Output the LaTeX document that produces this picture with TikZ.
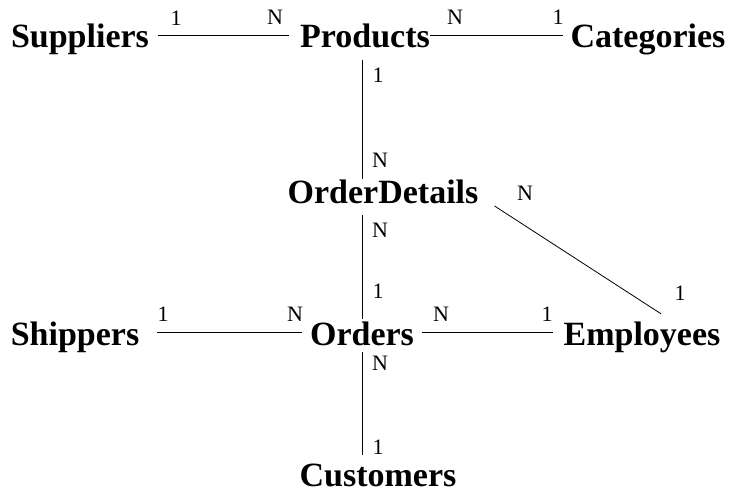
\documentclass[tikz,border=0pt]{standalone}
\usepackage{fontspec}
\setmainfont{Liberation Serif}
\begin{document}
\begin{tikzpicture}[x=1pt,y=-1pt,
  entity/.style={font=\fontsize{34}{40}\selectfont\bfseries, inner sep=0pt,
    text height=26pt, text depth=0pt, anchor=base},
  card/.style={font=\fontsize{22}{26}\selectfont, inner sep=0pt},
  link/.style={draw=black, line width=0.8pt}]
\useasboundingbox (0,0) rectangle (732,495);

% tables
\node[entity] (sup)  at (80,48)    {Suppliers};
\node[entity] (prod) at (365,48)   {Products};
\node[entity] (cat)  at (648,48)   {Categories};
\node[entity] (od)   at (383,203)  {OrderDetails};
\node[entity] (ship) at (75,345)   {Shippers};
\node[entity] (ord)  at (362,345)  {Orders};
\node[entity] (emp)  at (642,345)  {Employees};
\node[entity] (cust) at (378,486)  {Customers};

% relationships
\draw[link, shorten <=9pt, shorten >=11pt] (sup.east) -- (prod.west);
\draw[link, shorten <=0pt, shorten >=7pt] (prod.east) -- (cat.west);
\draw[link, shorten <=12pt, shorten >=-2pt] (prod.south -| ord) -- (od.north -| ord);
\draw[link, shorten <=12pt, shorten >=0pt] (od.south -| ord) -- (ord.north);
\draw[link, shorten <=7pt, shorten >=5pt] (ord.south) -- (cust.north -| ord);
\draw[link, shorten <=18pt, shorten >=8pt] (ship.east) -- (ord.west);
\draw[link, shorten <=8pt, shorten >=10pt] (ord.east) -- (emp.west);
\draw[link] ([xshift=16pt,yshift=-16pt]od.east) -- ([xshift=19pt,yshift=5pt]emp.north);

% cardinalities
\node[card] (c1) at (176,18)  {1};
\node[card] (c2) at (275,17)  {N};
\node[card] (c3) at (455,17)  {N};
\node[card] (c4) at (558,17)  {1};
\node[card] (c5) at (378,75)  {1};
\node[card] (c6) at (380,160) {N};
\node[card] (c7) at (380,230) {N};
\node[card] (c8) at (378,291) {1};
\node[card] (c9) at (525,193) {N};
\node[card] (c10) at (680,293) {1};
\node[card] (c11) at (163,314) {1};
\node[card] (c12) at (295,314) {N};
\node[card] (c13) at (441,314) {N};
\node[card] (c14) at (547,314) {1};
\node[card] (c15) at (380,363) {N};
\node[card] (c16) at (378,447) {1};
\end{tikzpicture}
\end{document}
